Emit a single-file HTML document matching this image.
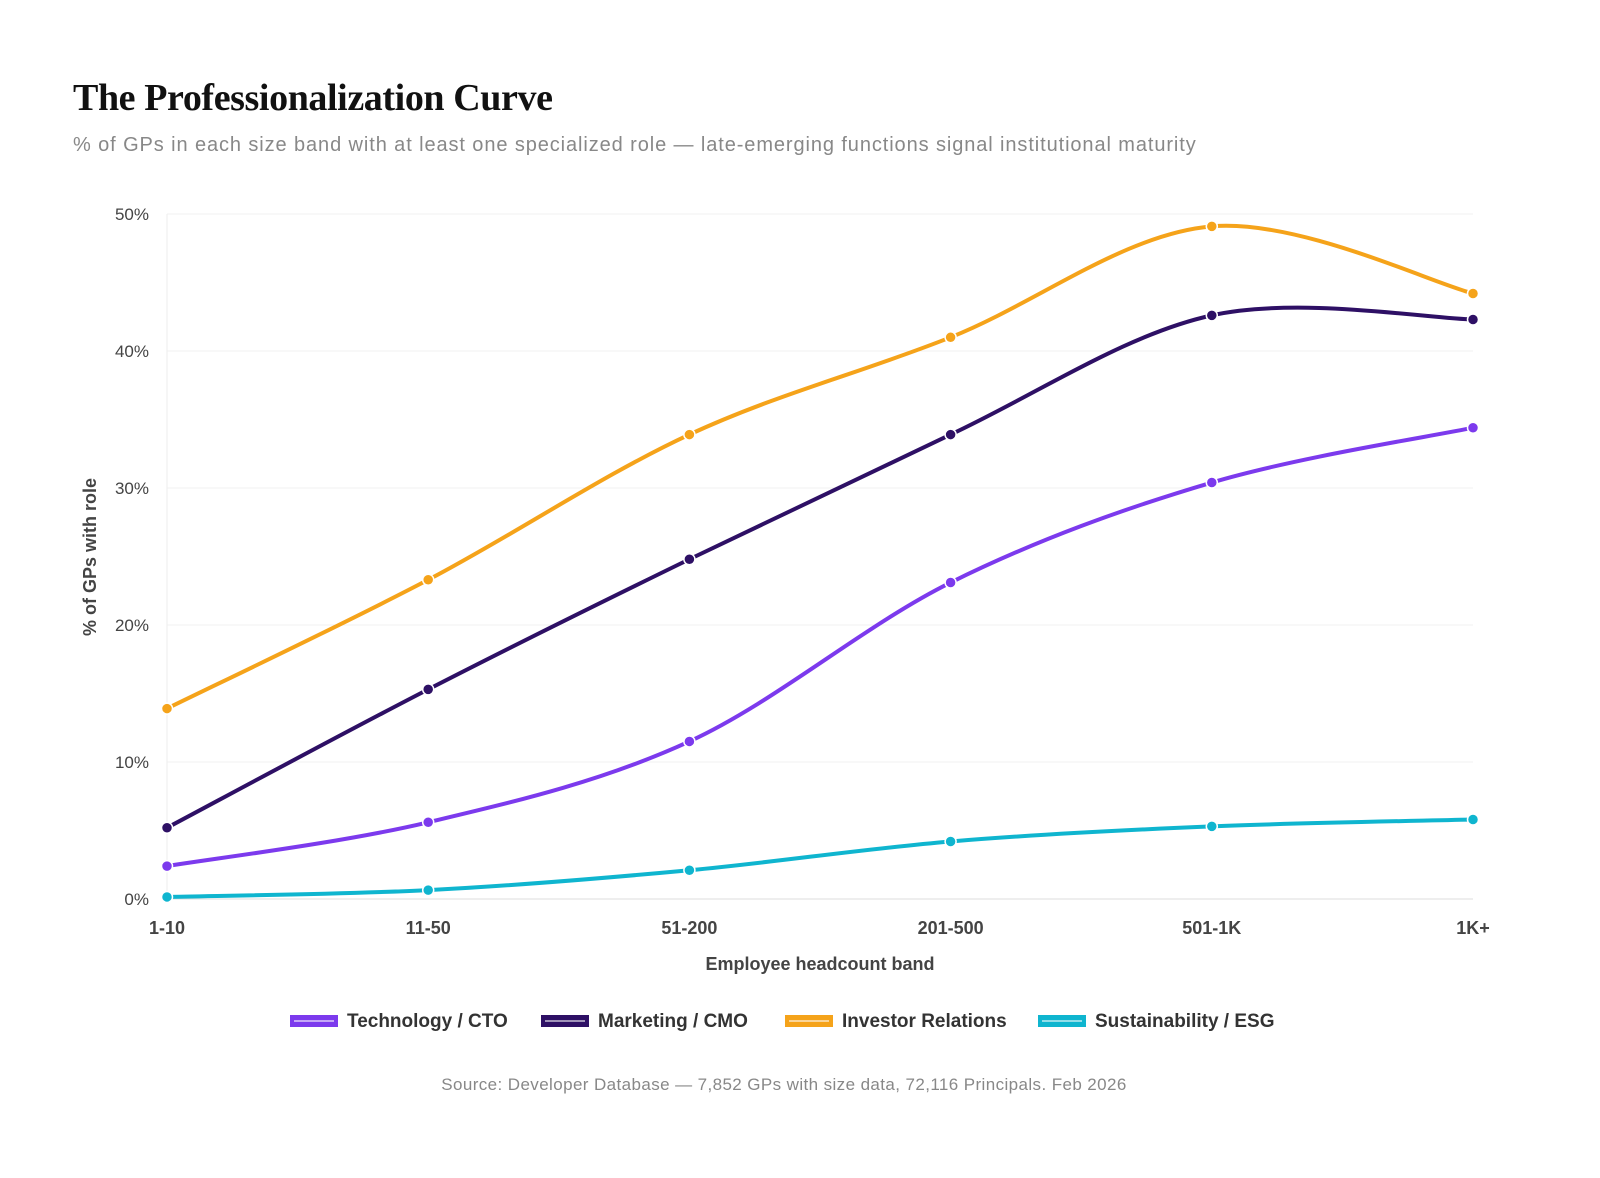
<!DOCTYPE html>
<html><head><meta charset="utf-8"><style>
body{margin:0;background:#fff;width:1600px;height:1178px;overflow:hidden;font-family:"Liberation Sans",sans-serif}
#title{position:absolute;left:73px;top:76px;font-family:"Liberation Serif",serif;font-weight:bold;font-size:38px;color:#111;letter-spacing:-0.4px}
#sub{position:absolute;left:73px;top:134px;font-size:20px;color:#888;letter-spacing:0.9px}
svg{position:absolute;left:0;top:0}
</style></head><body>
<div id="title">The Professionalization Curve</div>
<div id="sub">% of GPs in each size band with at least one specialized role — late-emerging functions signal institutional maturity</div>
<svg id="chart" width="1600" height="1178"></svg>
<script>
const categories=["1-10","11-50","51-200","201-500","501-1K","1K+"];
const techValues=[2.4,5.6,11.5,23.1,30.4,34.4];
const mktValues=[5.2,15.3,24.8,33.9,42.6,42.3];
const irValues=[13.9,23.3,33.9,41.0,49.1,44.2];
const esgValues=[0.15,0.65,2.1,4.2,5.3,5.8];
const yTicks=[0,10,20,30,40,50];
const yTickLabels=["0%","10%","20%","30%","40%","50%"];
const seriesNames=["Technology / CTO","Marketing / CMO","Investor Relations","Sustainability / ESG"];
const seriesColors=["#7c3aed","#2e1065","#f5a31a","#0fb5cf"];
const seriesData=[techValues,mktValues,irValues,esgValues];
const NS="http://www.w3.org/2000/svg";
const svg=document.getElementById('chart');
const X0=167,X1=1473,Y0=899,Y1=214;
const x=i=>X0+(X1-X0)*i/(categories.length-1);
const y=v=>Y0-(Y0-Y1)*v/50;
function el(t,a,p){const e=document.createElementNS(NS,t);for(const k in a)e.setAttribute(k,a[k]);(p||svg).appendChild(e);return e;}
yTicks.forEach((t,i)=>{
 const g=el('line',{x1:X0,x2:X1,y1:y(t),y2:y(t),stroke:t===0?'#ddd':'#f0f0f0','stroke-width':1});
 
 
 const tx=el('text',{x:149,y:y(t)+6,'text-anchor':'end','font-size':17,fill:'#444'});
 tx.textContent=yTickLabels[i];
 
 
});
const ax=el('line',{x1:X0,x2:X0,y1:Y1,y2:Y0,stroke:'#eee'});
categories.forEach((c,i)=>{
 const tx=el('text',{x:x(i),y:934,'text-anchor':'middle','font-size':18,'font-weight':'bold',fill:'#444'});
 tx.textContent=c;
 
 
});
let t=el('text',{x:820,y:970,'text-anchor':'middle','font-size':18,'font-weight':'bold',fill:'#444'});t.textContent='Employee headcount band';


t=el('text',{x:0,y:0,transform:'translate(96,557) rotate(-90)','text-anchor':'middle','font-size':18,'font-weight':'bold',fill:'#444'});t.textContent='% of GPs with role';


function pathFor(vals){
 const p=vals.map((v,i)=>[x(i),y(v)]);
 let d='M'+p[0][0]+','+p[0][1];
 for(let i=0;i<p.length-1;i++){
  const p0=p[i-1]||p[i],p1=p[i],p2=p[i+1],p3=p[i+2]||p[i+1];
  const c1=[p1[0]+(p2[0]-p0[0])/6,p1[1]+(p2[1]-p0[1])/6];
  const c2=[p2[0]-(p3[0]-p1[0])/6,p2[1]-(p3[1]-p1[1])/6];
  d+=`C${c1[0]},${c1[1]} ${c2[0]},${c2[1]} ${p2[0]},${p2[1]}`;
 }
 return d;
}
[3,0,1,2].forEach(s=>{
 const ln=el('path',{d:pathFor(seriesData[s]),fill:'none',stroke:seriesColors[s],'stroke-width':4,'stroke-linecap':'round'});
 
 
 seriesData[s].forEach((v,i)=>{
  const c=el('circle',{cx:x(i),cy:y(v),r:5.5,fill:seriesColors[s],stroke:'#fff','stroke-width':1.5});
  
  
 });
});
const legX=[290,541,785,1038];
seriesNames.forEach((n,i)=>{
 const r=el('rect',{x:legX[i],y:1015,width:48,height:12,fill:seriesColors[i]});
 
 
 el('line',{x1:legX[i]+4,x2:legX[i]+44,y1:1021,y2:1021,stroke:'rgba(255,255,255,0.55)','stroke-width':2});
 const tx=el('text',{x:legX[i]+57,y:1027,'font-size':19,'font-weight':'bold',fill:'#333'});
 tx.textContent=n;
 
 
});
t=el('text',{x:784,y:1090,'text-anchor':'middle','font-size':17,'letter-spacing':'0.4',fill:'#888'});t.textContent='Source: Developer Database — 7,852 GPs with size data, 72,116 Principals. Feb 2026';


</script>
</body></html>
